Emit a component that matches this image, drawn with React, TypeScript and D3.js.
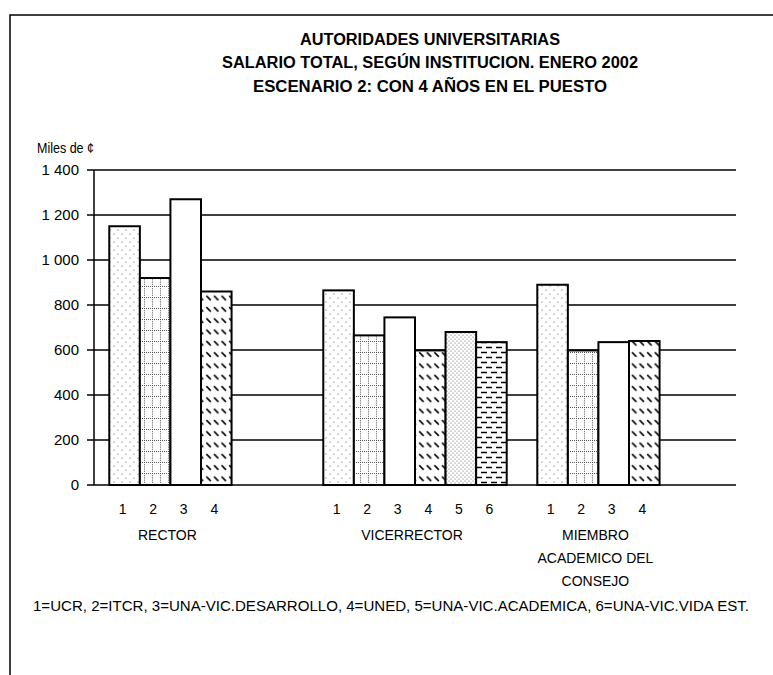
import React from "react";
import * as d3 from "d3";

// ---- data ----
const categories = ["RECTOR", "VICERRECTOR", "MIEMBRO ACADEMICO DEL CONSEJO"];
const categoryLabelLines = [["RECTOR"], ["VICERRECTOR"], ["MIEMBRO", "ACADEMICO DEL", "CONSEJO"]];
const seriesCodes = ["1", "2", "3", "4", "5", "6"];
const seriesNames = ["UCR", "ITCR", "UNA-VIC.DESARROLLO", "UNED", "UNA-VIC.ACADEMICA", "UNA-VIC.VIDA EST."];
const ucr = [1150, 865, 890];
const itcr = [920, 665, 598];
const unaDesarrollo = [1270, 745, 635];
const uned = [860, 598, 640];
const unaAcademica = [null, 680, null];
const unaVidaEst = [null, 635, null];
const seriesValues: (number | null)[][] = [ucr, itcr, unaDesarrollo, uned, unaAcademica, unaVidaEst];
const yTicks = [0, 200, 400, 600, 800, 1000, 1200, 1400];
const yTickLabels = ["0", "200", "400", "600", "800", "1 000", "1 200", "1 400"];
const titleLines = [
  "AUTORIDADES UNIVERSITARIAS",
  "SALARIO TOTAL, SEGÚN INSTITUCION. ENERO 2002",
  "ESCENARIO 2: CON 4 AÑOS EN EL PUESTO",
];
const yAxisTitle = "Miles de ¢";

// ---- layout ----
const W = 773;
const H = 675;
const left = 94;
const right = 736;
const top = 170;
const bottom = 485;
const FONT = "'Liberation Sans Narrow', 'Arial Narrow', 'Liberation Sans', Arial, sans-serif";
const FONT_REG = "'Liberation Sans', Arial, sans-serif";
const titleWidths = [260, 416, 354];
const titleBaselines = [45, 68, 92];
const patternIds = ["pUcr", "pItcr", "pWhite", "pUned", "pAcad", "pVida"];

export default function App() {
  const y = d3.scaleLinear().domain([0, 1400]).range([bottom, top]);
  const x0 = d3.scaleBand<string>().domain(categories).range([left, right]).padding(0);
  const x1 = d3
    .scaleBand<string>()
    .domain(seriesCodes)
    .range([0, x0.bandwidth()])
    .paddingInner(0)
    .paddingOuter(0.5);
  const bw = x1.bandwidth();

  const legendText = seriesCodes.map((c, i) => `${c}=${seriesNames[i]}`).join(", ");

  return (
    <div style={{ position: "absolute", left: 0, top: 0 }}>
      <svg width={W} height={H} style={{ display: "block", background: "#fff" }}>
        <defs>
          <pattern id="pUcr" patternUnits="userSpaceOnUse" width={8} height={8}>
            <rect width={8} height={8} fill="#fff" />
            <circle cx={2} cy={2} r={0.6} fill="#444" />
            <circle cx={6} cy={6} r={0.6} fill="#444" />
          </pattern>
          <pattern id="pItcr" patternUnits="userSpaceOnUse" width={8} height={11}>
            <rect width={8} height={11} fill="#fff" />
            <line x1={0} y1={0.5} x2={8} y2={0.5} stroke="#444" strokeWidth={0.9} strokeDasharray="1 1" />
            <line x1={0.5} y1={0} x2={0.5} y2={11} stroke="#444" strokeWidth={0.9} strokeDasharray="1 1.2" />
          </pattern>
          <pattern id="pWhite" patternUnits="userSpaceOnUse" width={8} height={8}>
            <rect width={8} height={8} fill="#fff" />
          </pattern>
          <pattern id="pUned" patternUnits="userSpaceOnUse" width={7.6} height={11.3}>
            <rect width={7.6} height={11.3} fill="#fff" />
            <line x1={1.2} y1={2} x2={5.6} y2={6.4} stroke="#000" strokeWidth={1.6} />
          </pattern>
          <pattern id="pAcad" patternUnits="userSpaceOnUse" width={4} height={4}>
            <rect width={4} height={4} fill="#fff" />
            <circle cx={1} cy={1} r={0.55} fill="#555" />
            <circle cx={3} cy={3} r={0.55} fill="#555" />
          </pattern>
          <pattern id="pVida" patternUnits="userSpaceOnUse" width={10} height={10}>
            <rect width={10} height={10} fill="#fff" />
            <line x1={1} y1={2.5} x2={7} y2={2.5} stroke="#000" strokeWidth={1.5} />
            <line x1={6} y1={7.5} x2={10} y2={7.5} stroke="#000" strokeWidth={1.5} />
            <line x1={0} y1={7.5} x2={2} y2={7.5} stroke="#000" strokeWidth={1.5} />
          </pattern>
        </defs>

        {/* outer frame */}
        <rect x={10} y={15} width={820} height={720} fill="none" stroke="#000" strokeWidth={1.5} />

        {/* titles */}
        {titleLines.map((t, i) => (
          <text
            key={t}
            x={430}
            y={titleBaselines[i]}
            textAnchor="middle"
            fontFamily={FONT}
            fontWeight="bold"
            fontSize={16}
            textLength={titleWidths[i]}
            lengthAdjust="spacingAndGlyphs"
            fill="#000"
          >
            {t}
          </text>
        ))}

        {/* y axis title */}
        <text x={37} y={153} fontFamily={FONT_REG} fontSize={15} fill="#000" textLength={57} lengthAdjust="spacingAndGlyphs">
          {yAxisTitle}
        </text>

        {/* gridlines */}
        {yTicks.map((v) => (
          <line key={"g" + v} x1={left} x2={right} y1={y(v)} y2={y(v)} stroke="#000" strokeWidth={1.4} />
        ))}
        {/* y axis & ticks */}
        <line x1={left} x2={left} y1={top} y2={bottom} stroke="#000" strokeWidth={1.5} />
        {yTicks.map((v, i) => (
          <g key={"t" + v}>
            <line x1={left - 7} x2={left} y1={y(v)} y2={y(v)} stroke="#000" strokeWidth={1.5} />
            <text
              x={79}
              y={y(v) + 5}
              textAnchor="end"
              fontFamily={FONT_REG}
              fontSize={15}
              fill="#000"
            >
              {yTickLabels[i]}
            </text>
          </g>
        ))}

        {/* bars */}
        {categories.map((cat, ci) =>
          seriesValues.map((vals, si) => {
            const v = vals[ci];
            if (v == null) return null;
            const bx = (x0(cat) as number) + (x1(seriesCodes[si]) as number);
            return (
              <rect
                key={cat + si}
                x={bx}
                y={y(v)}
                width={bw}
                height={y(0) - y(v)}
                fill={`url(#${patternIds[si]})`}
                stroke="#000"
                strokeWidth={2}
              />
            );
          })
        )}

        {/* bar index labels and group labels */}
        {categories.map((cat, ci) => {
          const present = seriesCodes.filter((_, si) => seriesValues[si][ci] != null);
          const first = (x0(cat) as number) + (x1(present[0]) as number);
          const last = (x0(cat) as number) + (x1(present[present.length - 1]) as number) + bw;
          const cx = (first + last) / 2 - 3;
          return (
            <g key={"lab" + cat}>
              {present.map((code) => (
                <text
                  key={code}
                  x={(x0(cat) as number) + (x1(code) as number) + bw / 2 - 2}
                  y={514}
                  textAnchor="middle"
                  fontFamily={FONT_REG}
                  fontSize={14}
                  fill="#000"
                >
                  {code}
                </text>
              ))}
              {categoryLabelLines[ci].map((ln, li) => (
                <text
                  key={ln}
                  x={cx}
                  y={540 + li * 23}
                  textAnchor="middle"
                  fontFamily={FONT}
                  fontSize={14}
                  fill="#000"
                >
                  {ln}
                </text>
              ))}
            </g>
          );
        })}

        {/* legend text */}
        <text
          x={391}
          y={611}
          textAnchor="middle"
          fontFamily={FONT}
          fontSize={14}
          textLength={716}
          lengthAdjust="spacingAndGlyphs"
          fill="#000"
        >
          {legendText}
        </text>
      </svg>
    </div>
  );
}
